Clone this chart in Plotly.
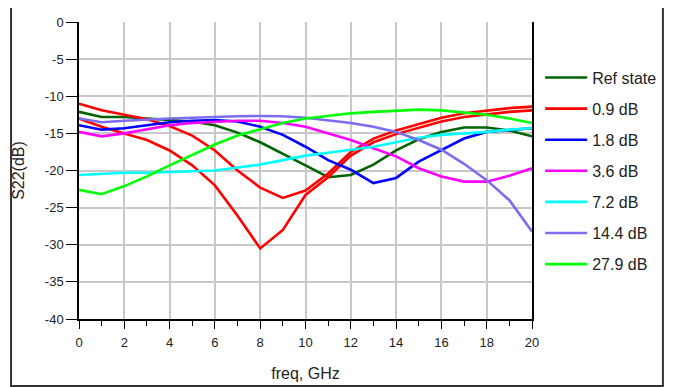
import plotly.graph_objects as go

freq = list(range(0, 21))

ref_state = [-12.1, -12.8, -12.8, -13.0, -13.1, -13.4, -13.9, -14.9, -16.2, -17.7, -19.3,
             -20.9, -20.6, -19.2, -17.3, -15.8, -14.8, -14.2, -14.2, -14.6, -15.4]
db0_9_a = [-11.0, -11.9, -12.5, -13.1, -14.0, -15.3, -17.3, -20.0, -22.3, -23.7, -22.7,
           -20.4, -17.5, -15.7, -14.6, -13.7, -12.9, -12.3, -11.9, -11.6, -11.4]
db0_9_b = [-13.0, -14.1, -15.0, -15.9, -17.3, -19.3, -22.0, -26.1, -30.5, -28.0, -23.3,
           -20.9, -18.0, -16.2, -15.1, -14.2, -13.4, -12.8, -12.4, -12.1, -11.9]
db1_8 = [-13.9, -14.5, -14.3, -13.9, -13.5, -13.3, -13.2, -13.4, -14.1, -15.2, -16.8,
         -18.6, -19.9, -21.7, -21.0, -18.8, -17.2, -15.7, -14.8, -14.5, -14.3]
db3_6 = [-14.8, -15.4, -15.0, -14.5, -13.9, -13.6, -13.4, -13.3, -13.3, -13.6, -14.1,
         -15.0, -15.9, -17.0, -18.1, -19.7, -20.8, -21.5, -21.5, -20.7, -19.7]
db7_2 = [-20.6, -20.4, -20.3, -20.3, -20.2, -20.1, -20.0, -19.6, -19.2, -18.6, -18.0,
         -17.6, -17.2, -16.8, -16.2, -15.6, -15.2, -15.0, -14.8, -14.5, -14.3]
db14_4 = [-13.0, -13.5, -13.3, -13.1, -13.0, -12.9, -12.75, -12.7, -12.65, -12.7, -12.9,
          -13.2, -13.6, -14.1, -14.8, -15.9, -17.2, -19.1, -21.3, -24.0, -28.2]
db27_9 = [-22.6, -23.2, -22.1, -20.8, -19.3, -17.9, -16.5, -15.3, -14.5, -13.6, -13.0,
          -12.6, -12.3, -12.1, -11.9, -11.8, -11.9, -12.2, -12.5, -13.0, -13.6]

series = [
    ("Ref state", ref_state, "#006400", True),
    ("0.9 dB", db0_9_a, "#ff0000", True),
    ("0.9 dB", db0_9_b, "#ff0000", False),
    ("1.8 dB", db1_8, "#0000ff", True),
    ("3.6 dB", db3_6, "#ff00ff", True),
    ("7.2 dB", db7_2, "#00ffff", True),
    ("14.4 dB", db14_4, "#7b6cf0", True),
    ("27.9 dB", db27_9, "#00ff00", True),
]

x_ticks = list(range(0, 21, 2))
y_ticks = list(range(-40, 1, 5))

fig = go.Figure()
for i, (name, vals, color, show) in enumerate(series):
    fig.add_trace(go.Scatter(
        x=freq, y=vals, mode="lines", name=name,
        line=dict(color=color, width=2.6),
        showlegend=show, legendgroup=f"g{i if show else i-1}",
    ))

# page body has an 8px margin, so margins are reduced by 8 on left/top
fig.update_layout(
    width=675, height=387,
    margin=dict(l=71, r=151, t=14, b=76, autoexpand=False),
    paper_bgcolor="white", plot_bgcolor="white",
    font=dict(family="Liberation Sans, Arial, sans-serif", size=13, color="#222"),
    legend=dict(
        x=1.018, y=0.87, xanchor="left", yanchor="top",
        font=dict(size=16, color="#222"),
        tracegroupgap=7.3, itemwidth=42, bgcolor="rgba(0,0,0,0)",
    ),
    shapes=[dict(type="rect", xref="paper", yref="paper",
                 x0=-0.150, x1=1.289, y0=-0.2256, y1=1.0505,
                 line=dict(color="#333", width=2), layer="below")],
)

fig.update_xaxes(
    range=[0, 20], tickvals=x_ticks, ticktext=[str(v) for v in x_ticks],
    ticks="outside", ticklen=8, tickcolor="#000", tickwidth=1.3,
    minor=dict(dtick=1, tick0=0, ticks="outside", ticklen=5, tickcolor="#000", showgrid=False),
    showgrid=True, gridcolor="#c8c8c8", gridwidth=1.5,
    showline=True, linecolor="#000", linewidth=1.5, mirror=False,
    zeroline=False, ticklabelstandoff=3,
    title=dict(text="freq, GHz", font=dict(size=16, color="#222"), standoff=18),
)
fig.update_yaxes(
    range=[-40, 0], tickvals=y_ticks, ticktext=[str(v) for v in y_ticks],
    ticks="outside", ticklen=11, tickcolor="#000", tickwidth=1.3,
    showgrid=True, gridcolor="#c8c8c8", gridwidth=1.5,
    showline=True, linecolor="#000", linewidth=1.5, mirror=True,
    zeroline=False,
    title=dict(text="S22(dB)", font=dict(size=16, color="#222"), standoff=16),
)

fig.write_html("out.html")
